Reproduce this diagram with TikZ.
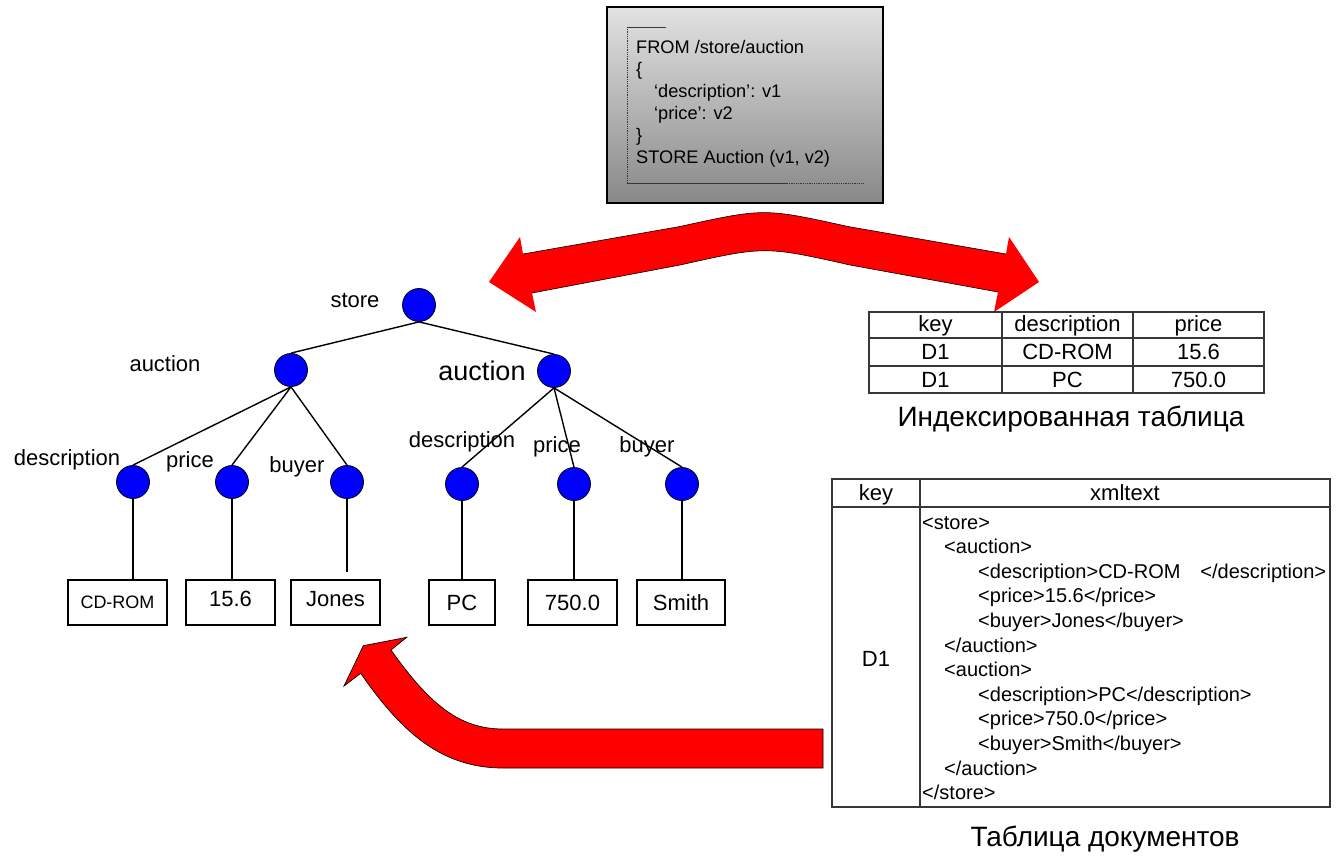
\documentclass[tikz,border=0pt]{standalone}
\usepackage{fontspec}
\setmainfont{Liberation Sans}
\definecolor{nodeblue}{RGB}{0,0,255}
\definecolor{arrowred}{RGB}{255,0,0}
\definecolor{boxtop}{RGB}{226,226,226}
\definecolor{boxbottom}{RGB}{136,136,136}
\definecolor{gridline}{RGB}{55,55,55}
\begin{document}
\begin{tikzpicture}[x=1pt,y=-1pt,
  treenode/.style={circle, draw=black, line width=0.8pt, fill=nodeblue, minimum size=33pt, inner sep=0pt},
  edge/.style={draw=black, line width=1.4pt},
  lbl/.style={inner sep=0pt, font=\fontsize{22}{26}\selectfont, text height=15.8pt, text depth=0pt},
  biglbl/.style={inner sep=0pt, font=\fontsize{27}{31}\selectfont, text height=19.3pt, text depth=0pt},
  leafbox/.style={draw=black, line width=1.3pt, fill=white, minimum height=45pt, inner sep=0pt,
    font=\fontsize{22}{26}\selectfont, text height=15.8pt, text depth=0pt},
  cell/.style={inner sep=0pt, font=\fontsize{22}{26}\selectfont, text height=15.8pt, text depth=0pt},
  xml/.style={anchor=west, inner sep=0pt, font=\fontsize{20}{24}\selectfont, text height=14.3pt, text depth=0pt},
  caption/.style={inner sep=0pt, font=\fontsize{28}{32}\selectfont, text height=20pt, text depth=0pt},
  grid/.style={draw=gridline, line width=1.2pt},
  shaftedge/.style={draw=black, line width=0.6pt}
]
\useasboundingbox (0,0) rectangle (1341,855);

% ---- query box ----
\node[draw=black, line width=1.6pt, top color=boxtop, bottom color=boxbottom,
      minimum width=276pt, minimum height=196pt, inner sep=0pt] (qbox) at (745,105) {};
\draw[gridline, line width=0.8pt] (627,27) -- (666,27);
\draw[gridline, line width=0.8pt, densely dotted] (627,27) -- (627,183);
\draw[gridline, line width=0.8pt] (627,183) -- (787,183);
\draw[gridline, line width=0.8pt, densely dotted] (787,183) -- (863,183);
\node[anchor=north west, inner sep=0pt, align=left, font=\fontsize{18.2}{22}\selectfont] (qtext) at (636,40.5)
  {FROM /store/auction\\
   \{\\
   \hspace*{18pt}‘description’: v1\\
   \hspace*{18pt}‘price’: v2\\
   \}\\
   STORE Auction (v1, v2)};

% ---- double arrow between tree and index table ----
\fill[arrowred] (489,282) -- (520,237) -- (523,254) -- (680,226.5) .. controls (764,208) .. (848,226.5)
  -- (1006,254) -- (1009,237) -- (1039,282) -- (994,312) -- (998,292) -- (850,265)
  .. controls (765,246) .. (680,265) -- (532,293) -- (536,312) -- cycle;
\draw[shaftedge] (523,254) -- (680,226.5) .. controls (764,208) .. (848,226.5) -- (1006,254);
\draw[shaftedge] (998,292) -- (850,265) .. controls (765,246) .. (680,265) -- (532,293);

% ---- curved arrow from document table back to tree ----
\draw[black, line width=0.7pt, fill=arrowred] (823,729) -- (503,729)
  .. controls (460,729) and (430,705) .. (391,650) -- (406.7,637.3) -- (363.3,645.7)
  -- (344,686) -- (360.7,673.3) .. controls (400,730) and (440,768) .. (503,768)
  -- (823,768) -- cycle;

% ---- tree ----
\node[treenode] (store) at (419,305) {};
\node[treenode] (a1) at (291,370) {};
\node[treenode] (a2) at (554,371) {};
\node[treenode] (d1) at (133,482) {};
\node[treenode] (p1) at (232,482) {};
\node[treenode] (b1) at (347,482) {};
\node[treenode] (d2) at (462,484) {};
\node[treenode] (p2) at (574,484) {};
\node[treenode] (b2) at (682,484) {};

\node[lbl] (lstore) at (355,300) {store};
\node[lbl] (la1) at (165,364) {auction};
\node[biglbl] (la2) at (482,371) {auction};
\node[lbl] (ld1) at (67,458) {description};
\node[lbl] (lp1) at (190,460) {price};
\node[lbl] (lb1) at (297,465) {buyer};
\node[lbl] (ld2) at (462,440) {description};
\node[lbl] (lp2) at (557,445) {price};
\node[lbl] (lb2) at (647,445) {buyer};

\node[leafbox, minimum width=99pt, font=\fontsize{18}{22}\selectfont, text height=12.9pt] (x1) at (117.5,602.5) {CD-ROM};
\node[leafbox, minimum width=89pt, text depth=8pt] (x2) at (230.5,602.5) {15.6};
\node[leafbox, minimum width=89pt, text depth=8pt] (x3) at (335.5,602.5) {Jones};
\node[leafbox, minimum width=66pt] (x4) at (462,602.5) {PC};
\node[leafbox, minimum width=89pt] (x5) at (572.5,602.5) {750.0};
\node[leafbox, minimum width=88pt] (x6) at (681,602.5) {Smith};

\draw[edge] (store.south) -- (a1.north);
\draw[edge] (store.south) -- (a2.north);
\draw[edge] (a1.south) -- (d1.north);
\draw[edge] (a1.south) -- (p1.north);
\draw[edge] (a1.south) -- (b1.north);
\draw[edge] (a2.south) -- (d2.north);
\draw[edge] (a2.south) -- (p2.north);
\draw[edge] (a2.south) -- (b2.north);
\draw[edge] (d1.south) -- (d1.south |- x1.north);
\draw[edge] (p1.south) -- (p1.south |- x2.north);
\draw[edge] (b1.south) -- ([yshift=7pt]b1.south |- x3.north);
\draw[edge] (d2.south) -- (d2.south |- x4.north);
\draw[edge] (p2.south) -- (p2.south |- x5.north);
\draw[edge] (b2.south) -- (b2.south |- x6.north);

% ---- index table ----
\draw[grid, fill=white] (869,312) rectangle (1264,393);
\draw[grid] (869,338) -- (1264,338) (869,366) -- (1264,366)
            (1002,312) -- (1002,393) (1133,312) -- (1133,393);
\node[cell] (ik) at (935.5,324) {key};
\node[cell] (id) at (1067.5,324) {description};
\node[cell] (ip) at (1198.5,324) {price};
\node[cell] (ik1) at (935.5,352) {D1};
\node[cell] (id1) at (1067.5,352) {CD-ROM};
\node[cell] (ip1) at (1198.5,352) {15.6};
\node[cell] (ik2) at (935.5,379.5) {D1};
\node[cell] (id2) at (1067.5,379.5) {PC};
\node[cell] (ip2) at (1198.5,379.5) {750.0};
\node[caption] (cap1) at (1071,416) {Индексированная таблица};

% ---- document table ----
\draw[grid] (832,479) rectangle (1330,807);
\draw[grid] (832,507) -- (1330,507) (920,479) -- (920,807);
\node[cell] (dk) at (876,493) {key};
\node[cell] (dx) at (1125,493) {xmltext};
\node[cell] (dd1) at (876,659) {D1};
\node[xml] (m1) at (922,522) {<store>};
\node[xml] (m2) at (944,546.6) {<auction>};
\node[xml] (m3) at (978,571.2) {<description>CD-ROM\hspace*{20pt}</description>};
\node[xml] (m4) at (978,595.8) {<price>15.6</price>};
\node[xml] (m5) at (978,620.4) {<buyer>Jones</buyer>};
\node[xml] (m6) at (944,645) {</auction>};
\node[xml] (m7) at (944,669.6) {<auction>};
\node[xml] (m8) at (978,694.2) {<description>PC</description>};
\node[xml] (m9) at (978,718.8) {<price>750.0</price>};
\node[xml] (m10) at (978,743.4) {<buyer>Smith</buyer>};
\node[xml] (m11) at (944,768) {</auction>};
\node[xml] (m12) at (922,792.6) {</store>};
\node[caption] (cap2) at (1105,836) {Таблица документов};
\end{tikzpicture}
\end{document}
